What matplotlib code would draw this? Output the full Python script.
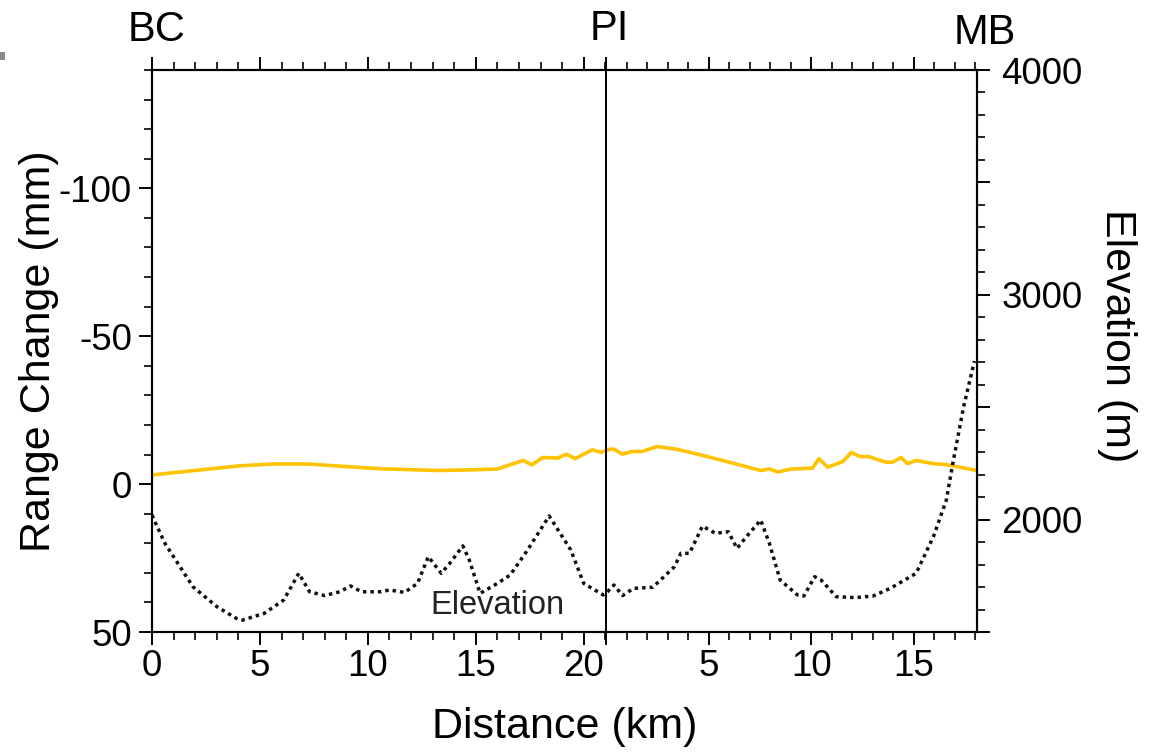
import matplotlib
matplotlib.use("Agg")
import matplotlib.pyplot as plt
from matplotlib.ticker import FixedLocator, FixedFormatter, MultipleLocator, FuncFormatter
import matplotlib.transforms as mtransforms
from matplotlib.patches import Rectangle

plt.rcParams['font.family'] = ['Liberation Sans', 'DejaVu Sans']

# ---- profile geometry (km) ----
pi_km = 21.05          # position of PI along the profile axis
seg2_scale = 0.949     # axis units per km on the PI-MB segment
end_km = 38.22         # right end of the profile axis

# ---- range change (mm), x in profile-axis units ----
rc_x = [0.0, 4.1, 5.6, 7.2, 10.1, 10.6, 13.2, 14.7, 16.0, 17.2, 17.6, 18.1, 18.8,
        19.2, 19.6, 20.4, 20.8, 21.2, 21.4, 21.8, 22.2, 22.7, 23.4, 24.3, 25.4,
        26.9, 28.2, 28.6, 29.0, 29.6, 30.6, 30.9, 31.3, 32.0, 32.4, 32.8, 33.2,
        34.0, 34.3, 34.7, 35.0, 35.4, 36.2, 36.8, 38.22]
rc_mm = [-3.1, -6.2, -6.8, -6.8, -5.4, -5.2, -4.6, -4.8, -5.1, -8.0, -6.5, -9.0, -8.8,
         -10.1, -8.6, -11.6, -10.7, -11.8, -11.8, -10.1, -11.0, -11.0, -12.7, -11.8, -9.9,
         -7.1, -4.6, -5.1, -4.1, -5.1, -5.4, -8.6, -5.7, -7.6, -10.7, -9.3, -9.3,
         -7.4, -7.4, -9.0, -6.9, -8.0, -6.9, -6.6, -4.6]

# ---- elevation (m) ----
el_x = [0.0, 0.1, 0.6, 1.3, 1.9, 3.0, 3.9, 4.2, 5.2, 6.1, 6.8, 7.3, 8.0, 8.7, 9.2,
        9.7, 10.6, 11.0, 11.7, 12.3, 12.8, 13.4, 13.8, 14.4, 14.7, 15.2, 16.0, 16.6,
        17.4, 18.4, 19.4, 20.0, 20.9, 21.1, 21.4, 21.8, 22.3, 23.2, 24.2, 24.5, 24.9,
        25.5, 26.1, 26.7, 27.1, 27.6, 28.2, 28.6, 29.1, 29.9, 30.2, 30.7, 31.0, 31.7,
        32.6, 33.4, 34.2, 35.4, 36.2, 36.8, 37.1, 37.6, 38.1]
el_m = [2020, 1998, 1894, 1790, 1701, 1613, 1561, 1553, 1583, 1642, 1761, 1679, 1662,
        1679, 1705, 1679, 1679, 1687, 1676, 1716, 1835, 1761, 1806, 1883, 1820, 1672,
        1716, 1754, 1865, 2016, 1865, 1716, 1665, 1679, 1709, 1662, 1694, 1699, 1790,
        1850, 1850, 1971, 1939, 1946, 1872, 1931, 1998, 1895, 1731, 1665, 1660, 1746,
        1731, 1657, 1653, 1660, 1694, 1761, 1924, 2087, 2250, 2502, 2705]

seg1_major = [0, 5, 10, 15, 20]
seg2_major = [5, 10, 15]
site_labels = ['BC', 'PI', 'MB']

fig = plt.figure(figsize=(11.5, 7.55), dpi=100)
ax = fig.add_axes([152/1150, 123/755, 825/1150, 562/755])
ax2 = ax.twinx()

ax.set_xlim(0, end_km)
ax.set_ylim(50, -140)
ax2.set_ylim(1500, 4000)

gold = '#FFC300'
ax.plot(rc_x, rc_mm, color=gold, lw=2.6, solid_capstyle='round', zorder=3)
ax2.plot(el_x, el_m, color='#111111', lw=2.5, linestyle=(0, (1, 1.15)),
         dash_capstyle='butt', zorder=2)
ax.axvline(pi_km, color='black', lw=1.4, zorder=4)

# x ticks
maj_pos = seg1_major + [pi_km] + [pi_km + d * seg2_scale for d in seg2_major]
maj_lab = [str(v) for v in seg1_major] + [''] + [str(v) for v in seg2_major]
min_pos = list(range(0, 22)) + [pi_km + k * seg2_scale for k in range(1, 19)]
ax.xaxis.set_major_locator(FixedLocator(maj_pos))
ax.xaxis.set_major_formatter(FixedFormatter(maj_lab))
ax.xaxis.set_minor_locator(FixedLocator(min_pos))
ax.xaxis.set_ticks_position('both')

# y ticks
ax.yaxis.set_major_locator(MultipleLocator(50))
ax.yaxis.set_minor_locator(MultipleLocator(10))
ax.yaxis.set_major_formatter(FuncFormatter(lambda v, p: f"{int(v)}"))
ax2.yaxis.set_major_locator(MultipleLocator(500))
ax2.yaxis.set_minor_locator(MultipleLocator(100))
ax2.yaxis.set_major_formatter(FuncFormatter(lambda v, p: f"{int(v)}" if v % 1000 == 0 else ''))

for a in (ax, ax2):
    for s in a.spines.values():
        s.set_linewidth(1.5)
ax.tick_params(which='major', length=9.5, width=1.4, labelsize=26.5, direction='out')
ax.tick_params(which='minor', length=5.5, width=1.2, direction='out')
ax.tick_params(axis='x', which='major', pad=3)
ax.tick_params(axis='y', which='major', pad=5)
ax2.tick_params(which='major', length=9.5, width=1.4, labelsize=26.5, direction='out', pad=8)
ax2.tick_params(which='minor', length=5.5, width=1.2, direction='out')

ax.set_xlabel('Distance (km)', fontsize=31, labelpad=16)
ax.set_ylabel('Range Change (mm)', fontsize=31)
ax.yaxis.set_label_coords(-0.113, 0.5)
ax2.set_ylabel('Elevation (m)', fontsize=31, rotation=270, va='center')
ax2.yaxis.set_label_coords(1.17, 0.527)

trans = mtransforms.blended_transform_factory(ax.transData, ax.transAxes)
for lab, xp, yp in zip(site_labels, [0.2, 21.2, 38.6], [1.071, 1.073, 1.066]):
    ax.text(xp, yp, lab, transform=trans, ha='center', va='center', fontsize=30)

ax.text(16.0, 41.1, 'Elevation', ha='center', va='center', fontsize=23.5, color='#222222')

# small grey mark at the top-left edge of the reference image
fig.patches.append(Rectangle((0, 1 - 60/755), 5/1150, 8/755, transform=fig.transFigure,
                             facecolor='#888888', edgecolor='none'))

fig.savefig('out.png', dpi=100)
